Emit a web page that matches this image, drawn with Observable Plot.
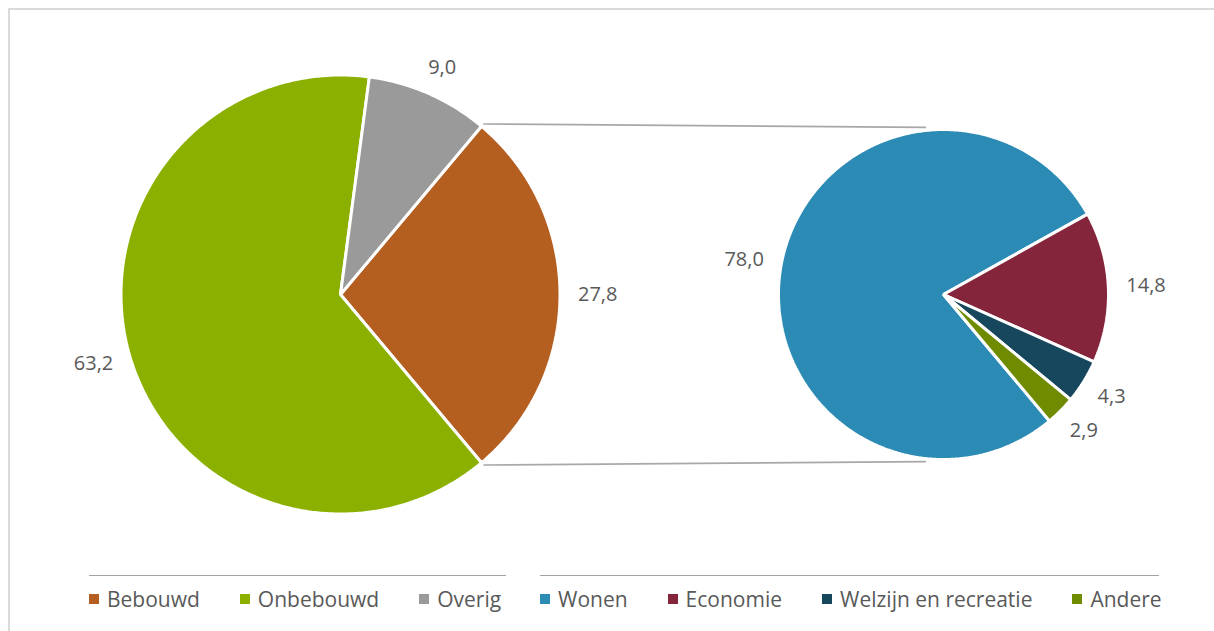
<!DOCTYPE html>
<html><head><meta charset="utf-8">
<script src="https://cdn.jsdelivr.net/npm/d3@7"></script>
<script src="https://cdn.jsdelivr.net/npm/@observablehq/plot@0.6"></script>
<style>
body{margin:0;background:#fff;font-family:"Open Sans",sans-serif;}
#wrap{position:relative;width:1214px;height:631px;overflow:hidden;}
#chart{position:absolute;left:0;top:0;}
#frame{position:absolute;left:8px;top:8px;right:-4px;bottom:-4px;border-top:2px solid #dadada;border-left:2px solid #dadada;pointer-events:none;}
.lg{position:absolute;top:575px;border-top:1.5px solid #a3a3a3;display:flex;gap:40px;padding-top:9px;font-size:21px;color:#595959;}
.it{display:flex;align-items:center;white-space:nowrap;}
.sw{width:10px;height:10px;margin-right:8px;flex:none;}
</style></head><body>
<div id="wrap"><div id="chart"></div><div id="frame"></div>
<div class="lg" id="lg1" style="left:89px;width:417px"></div>
<div class="lg" id="lg2" style="left:540px;width:619px"></div>
</div>
<script>
// ---- data ----
const mainCategories = ["Bebouwd", "Onbebouwd", "Overig"];
const mainValues = [27.8, 63.2, 9.0];
const mainColors = ["#b45e20", "#8bb000", "#9a9a9a"];
const subCategories = ["Wonen", "Economie", "Welzijn en recreatie", "Andere"];
const subValues = [78.0, 14.8, 4.3, 2.9];
const subColors = ["#2b8bb5", "#85253b", "#16475d", "#6f8c00"];

// ---- layout ----
const W = 1214, H = 560;
const mainPie = {cx: 340, cy: 294, r: 219.5};
const subPie = {cx: 943, cy: 294, r: 165};
const labelGap = 18.5, labelFont = 20;

const total = d3.sum(mainValues);
const bebAngle = mainValues[0] / total * 2 * Math.PI;
const mainStart = Math.PI / 2 - bebAngle / 2;
const subStart = mainStart + bebAngle;

function slices(cats, vals, pie, start) {
  const arcs = d3.pie().sort(null).startAngle(start).endAngle(start + 2 * Math.PI)(vals);
  const poly = [], labels = [];
  arcs.forEach((a, i) => {
    const cat = cats[i];
    poly.push({cat, x: pie.cx, y: pie.cy});
    const n = Math.max(2, Math.ceil((a.endAngle - a.startAngle) / (Math.PI / 360)));
    for (let k = 0; k <= n; k++) {
      const t = a.startAngle + (a.endAngle - a.startAngle) * k / n;
      poly.push({cat, x: pie.cx + pie.r * Math.sin(t), y: pie.cy - pie.r * Math.cos(t)});
    }
    const m = (a.startAngle + a.endAngle) / 2;
    const text = vals[i].toFixed(1).replace(".", ",");
    const hw = text.length * labelFont * 0.24, hh = labelFont * 0.5;
    const s = Math.sin(m), c = Math.cos(m), R = pie.r + labelGap;
    labels.push({cat, text, x: pie.cx + R * s + hw * s, y: pie.cy - R * c - hh * c});
  });
  return {arcs, poly, labels};
}
const A = slices(mainCategories, mainValues, mainPie, mainStart);
const B = slices(subCategories, subValues, subPie, subStart);

// connector lines: from the edges of the exploded slice to the top / bottom of the second pie
const sA = mainStart, eA = mainStart + bebAngle;
const tilt = 6 * Math.PI / 180, rr = subPie.r + 3;
const links = [
  {x1: mainPie.cx + (mainPie.r + 3) * Math.sin(sA), y1: mainPie.cy - (mainPie.r + 3) * Math.cos(sA),
   x2: subPie.cx + rr * Math.sin(-tilt), y2: subPie.cy - rr * Math.cos(-tilt)},
  {x1: mainPie.cx + (mainPie.r + 3) * Math.sin(eA), y1: mainPie.cy - (mainPie.r + 3) * Math.cos(eA),
   x2: subPie.cx + rr * Math.sin(Math.PI + tilt), y2: subPie.cy - rr * Math.cos(Math.PI + tilt)}
];

const chart = Plot.plot({
  width: W, height: H, margin: 0,
  x: {domain: [0, W], range: [0, W], axis: null},
  y: {domain: [0, H], range: [0, H], axis: null},
  color: {domain: [...mainCategories, ...subCategories], range: [...mainColors, ...subColors]},
  style: {background: "transparent", overflow: "visible"},
  marks: [
    Plot.link(links, {x1: "x1", y1: "y1", x2: "x2", y2: "y2", stroke: "#a8a8a8", strokeWidth: 1.6}),
    Plot.line(A.poly, {x: "x", y: "y", z: "cat", fill: "cat", stroke: "white", strokeWidth: 3, curve: "linear-closed", strokeLinejoin: "miter"}),
    Plot.line(B.poly, {x: "x", y: "y", z: "cat", fill: "cat", stroke: "white", strokeWidth: 3, curve: "linear-closed", strokeLinejoin: "miter"}),
    Plot.text([...A.labels, ...B.labels], {x: "x", y: "y", text: "text", fill: "#595959", fontSize: labelFont, fontFamily: "Open Sans", textAnchor: "middle", lineAnchor: "middle"})
  ]
});
document.getElementById("chart").appendChild(chart);

function legend(id, cats, cols) {
  const el = document.getElementById(id);
  cats.forEach((c, i) => {
    const it = document.createElement("div"); it.className = "it";
    const sw = document.createElement("span"); sw.className = "sw"; sw.style.background = cols[i];
    const tx = document.createElement("span"); tx.textContent = c;
    it.appendChild(sw); it.appendChild(tx); el.appendChild(it);
  });
}
legend("lg1", mainCategories, mainColors);
legend("lg2", subCategories, subColors);
</script>
</body></html>
